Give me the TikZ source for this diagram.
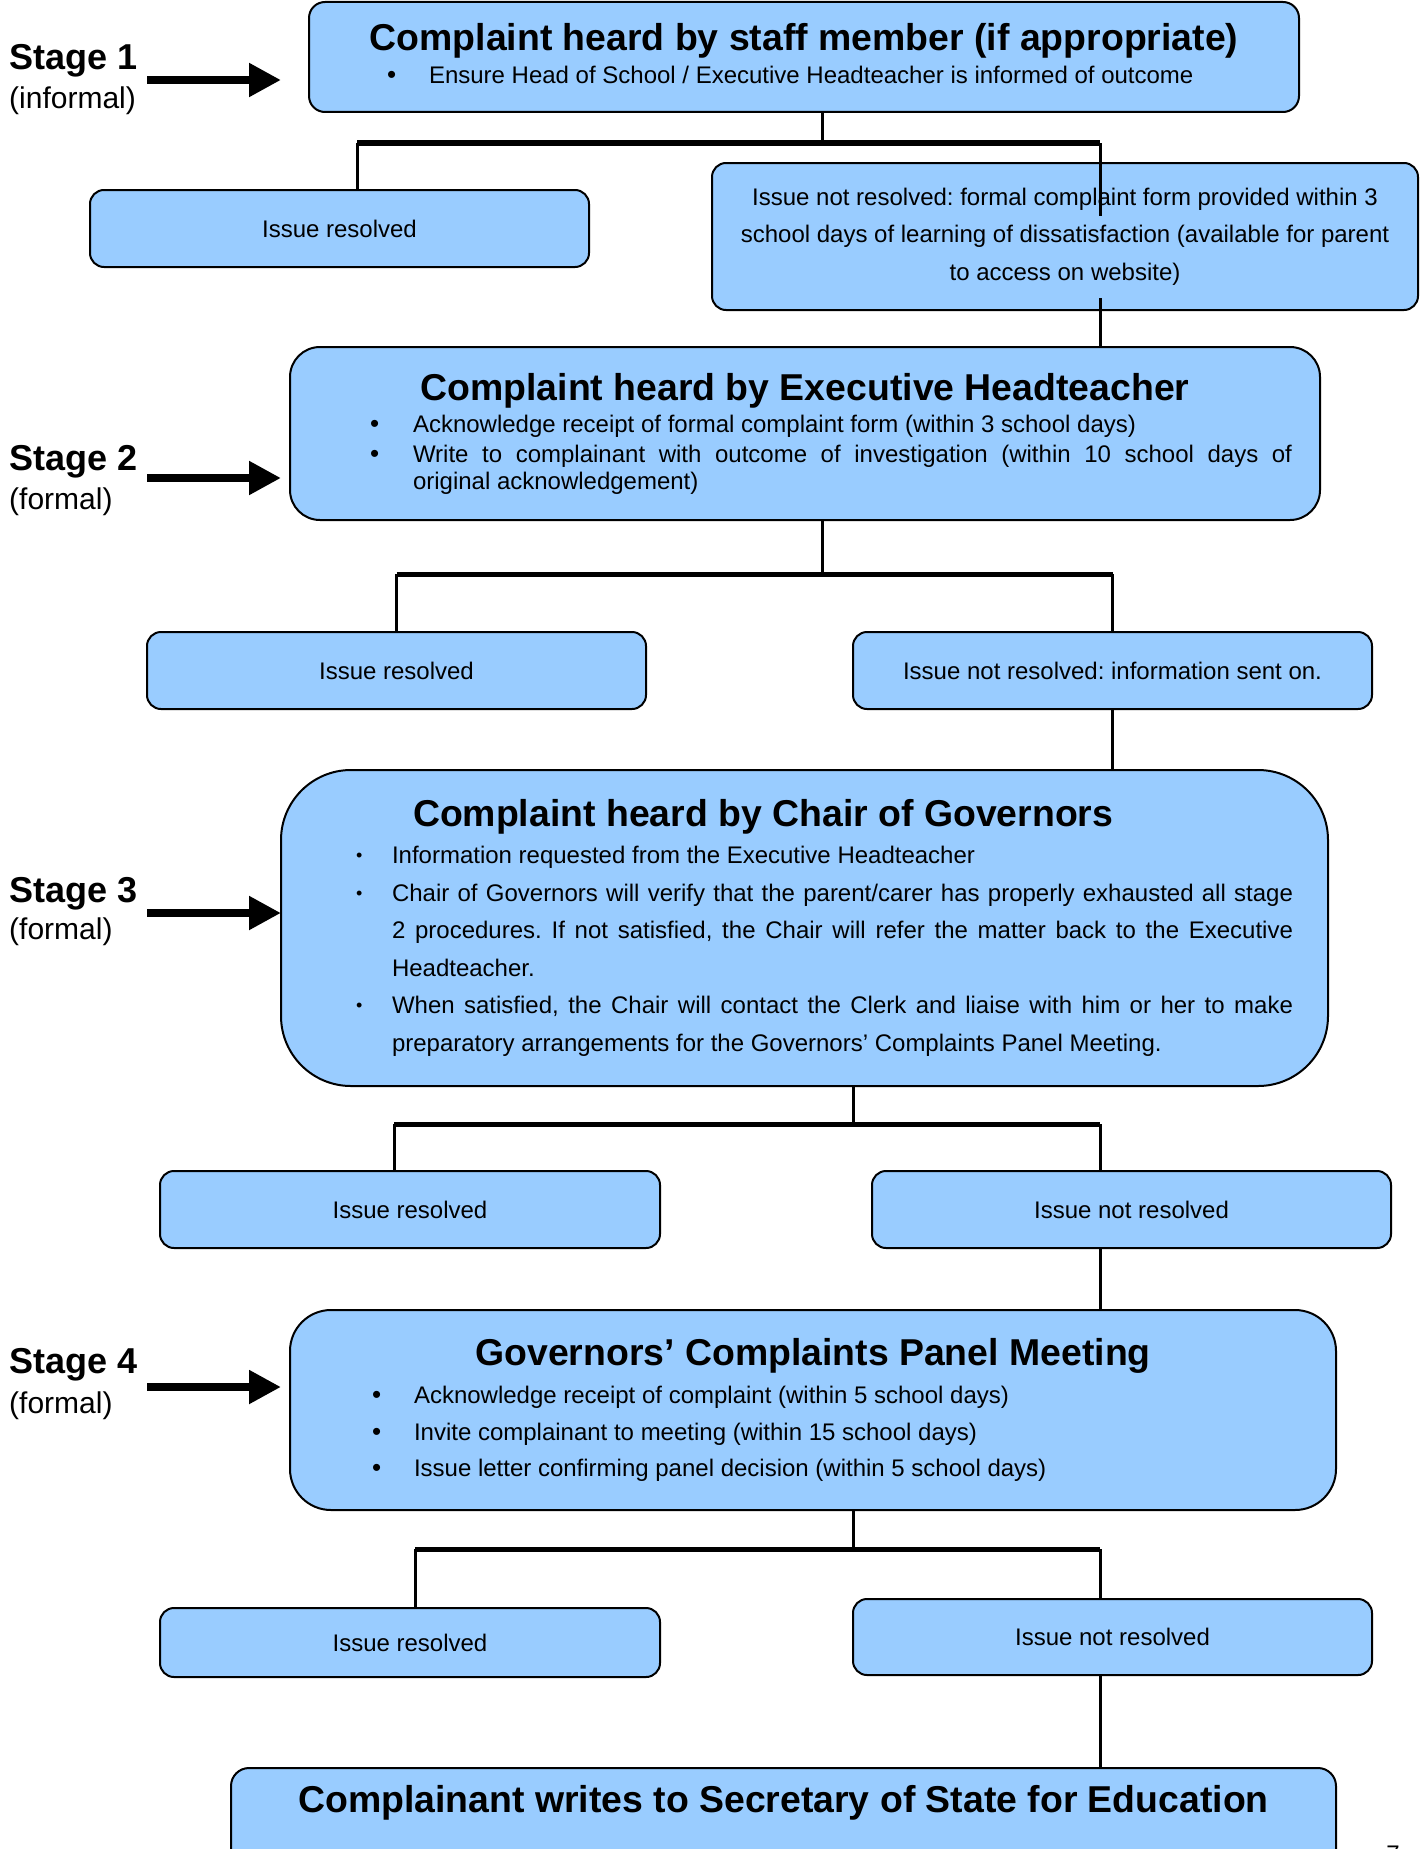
\documentclass[tikz,border=0pt]{standalone}
\usepackage{fontspec}
\setmainfont{Liberation Sans}
\usetikzlibrary{arrows.meta, positioning}

\definecolor{boxblue}{HTML}{99CCFF}
\setlength{\parindent}{0pt}
\hyphenpenalty=10000
\exhyphenpenalty=10000
\frenchspacing

\newcommand{\titlefont}{\fontsize{37.4}{44}\selectfont\bfseries}
\newcommand{\bodyfont}[1]{\fontsize{24}{#1}\selectfont}
\newcommand{\bigdot}{{\fontsize{26}{26}\selectfont •}}
\newcommand{\smalldot}{\raisebox{2pt}{\fontsize{18}{18}\selectfont •}}
% bullet point: [mark]{indent}{text}
\newcommand{\bpt}[3][\bigdot]{\par\noindent\hangindent=#2\hangafter=1\makebox[#2][l]{#1}#3\par}

\begin{document}
\begin{tikzpicture}[x=1pt, y=-1pt,
    every node/.style={font=\bodyfont{28}},
    box/.style={draw, line width=2pt, fill=boxblue, rounded corners=14pt, inner sep=0pt},
    stagelbl/.style={font=\fontsize{36}{40}\selectfont\bfseries, inner sep=0pt, anchor=west},
    notelbl/.style={font=\fontsize{30}{34}\selectfont, inner sep=0pt, anchor=west},
    stem/.style={line width=3pt},
    branch/.style={line width=5pt},
    stagearrow/.style={line width=8pt, -{Triangle[length=32pt, width=32pt]}}]

    \fill[white] (0,0) rectangle (1426,1849);
    \clip (0,0) rectangle (1426,1849);

    % stage labels
    \node[stagelbl] (st1) at (9,61) {Stage 1};
    \node[notelbl] (nt1) at (9,101) {(informal)};
    \node[stagelbl] (st2) at (9,462) {Stage 2};
    \node[notelbl] (nt2) at (9,502) {(formal)};
    \node[stagelbl] (st3) at (9,894) {Stage 3};
    \node[notelbl] (nt3) at (9,932) {(formal)};
    \node[stagelbl] (st4) at (9,1365) {Stage 4};
    \node[notelbl] (nt4) at (9,1406) {(formal)};

    % stage 1
    \node[box, rounded corners=16pt, minimum width=990pt, minimum height=110pt, text width=990pt, align=justify] (s1) at (804,57) {%
        {\centering\titlefont Complaint heard by staff member (if appropriate)\par}
        \vskip5pt
        {\bodyfont{28}\leftskip=78pt
        \bpt{42pt}{Ensure Head of School / Executive Headteacher is informed of outcome}}
        \kern6pt};
    \node[box, minimum width=499pt, minimum height=77pt] (r1) at (339.5,228.5) {Issue resolved};
    \node[box, minimum width=706pt, minimum height=147pt, align=center,
        font=\bodyfont{37.7}] (n1) at (1065,236.5)
        {Issue not resolved: formal complaint form provided within 3\\ school days of learning of dissatisfaction (available for parent\\ to access on website)};

    % stage 2
    \node[box, rounded corners=30pt, minimum width=1030pt, minimum height=173pt, text width=1030pt, align=justify] (s2) at (805,433.5) {%
        {\centering\titlefont Complaint heard by Executive Headteacher\par}
        \vskip2pt
        {\bodyfont{27}\parskip=3pt\leftskip=80pt\rightskip=28pt
        \bpt{43pt}{Acknowledge receipt of formal complaint form (within 3 school days)}
        \bpt{43pt}{Write to complainant with outcome of investigation (within 10 school days of\linebreak original acknowledgement)}}};
    \node[box, minimum width=499pt, minimum height=77pt] (r2) at (396.5,670.5) {Issue resolved};
    \node[box, minimum width=519pt, minimum height=77pt] (n2) at (1112.5,670.5) {Issue not resolved: information sent on.};

    % stage 3
    \node[box, rounded corners=70pt, minimum width=1047pt, minimum height=316pt, text width=1047pt, align=justify] (s3) at (804.5,928) {%
        {\titlefont\leftskip=132pt Complaint heard by Chair of Governors\par}
        \vskip-0.5pt
        {\bodyfont{37.5}\leftskip=75pt\rightskip=35pt
        \bpt[\smalldot]{36pt}{Information requested from the Executive Headteacher}
        \bpt[\smalldot]{36pt}{Chair of Governors will verify that the parent/carer has properly exhausted all stage 2 procedures. If not satisfied, the Chair will refer the matter back to the Executive Headteacher.}
        \bpt[\smalldot]{36pt}{When satisfied, the Chair will contact the Clerk and liaise with him or her to make preparatory arrangements for the Governors’ Complaints Panel Meeting.}}};
    \node[box, minimum width=500pt, minimum height=77pt] (r3) at (410,1209.5) {Issue resolved};
    \node[box, minimum width=519pt, minimum height=77pt] (n3) at (1131.5,1209.5) {Issue not resolved};

    % stage 4
    \node[box, rounded corners=41pt, minimum width=1046pt, minimum height=200pt, text width=1046pt, align=justify] (s4) at (813,1410) {%
        {\centering\titlefont Governors’ Complaints Panel Meeting\par}
        \vskip2pt
        {\bodyfont{36.5}\leftskip=82pt\rightskip=28pt
        \bpt{42pt}{Acknowledge receipt of complaint (within 5 school days)}
        \bpt{42pt}{Invite complainant to meeting (within 15 school days)}
        \bpt{42pt}{Issue letter confirming panel decision (within 5 school days)}}};
    \node[box, minimum width=500pt, minimum height=69pt] (r4) at (410,1642.5) {Issue resolved};
    \node[box, minimum width=519pt, minimum height=76pt] (n4) at (1112.5,1637) {Issue not resolved};

    % final step
    \node[box, rounded corners=18pt, anchor=north, minimum width=1105pt, inner ysep=0pt,
        text height=44pt, text depth=116pt, font=\titlefont] (fin) at (783.5,1767)
        {Complainant writes to Secretary of State for Education};

    % page number
    \node[anchor=base] (pg) at (1393,1862) {7};

    % arrows into the stages
    \coordinate (a1) at (147,80);  \coordinate (e1) at (281,80);
    \coordinate (a2) at (147,478); \coordinate (e2) at (281,478);
    \coordinate (a3) at (147,913); \coordinate (e3) at (281,913);
    \coordinate (a4) at (147,1387); \coordinate (e4) at (281,1387);
    \foreach \i in {1,...,4}
        \draw[stagearrow] (a\i) -- (e\i);

    % branches
    \coordinate (j1) at (822,143);  \coordinate (j1l) at (357,143);  \coordinate (j1r) at (1100,143);
    \coordinate (j2) at (822,574);
    \coordinate (j3) at (853,1124); \coordinate (j3l) at (394,1124); \coordinate (j3r) at (1100,1124);
    \coordinate (j4) at (853,1549); \coordinate (j4l) at (415,1549); \coordinate (j4r) at (1100,1549);
    \coordinate (c1) at (1100,216); \coordinate (x1) at (1100,298);

    \draw[stem] (j1 |- s1.south) -- (j1);
    \draw[branch] (j1l) -- (j1r);
    \draw[stem] (j1l) -- (j1l |- r1.north);
    \draw[stem] (j1r) -- (c1);
    \draw[stem] (x1) -- (x1 |- s2.north);

    \draw[stem] (j2 |- s2.south) -- (j2);
    \draw[branch] (r2.north |- j2) -- (n2.north |- j2);
    \draw[stem] (r2.north |- j2) -- (r2.north);
    \draw[stem] (n2.north |- j2) -- (n2.north);
    \draw[stem] (n2.south) -- (n2.south |- s3.north);

    \draw[stem] (j3 |- s3.south) -- (j3);
    \draw[branch] (j3l) -- (j3r);
    \draw[stem] (j3l) -- (j3l |- r3.north);
    \draw[stem] (j3r) -- (j3r |- n3.north);
    \draw[stem] (j3r |- n3.south) -- (j3r |- s4.north);

    \draw[stem] (j4 |- s4.south) -- (j4);
    \draw[branch] (j4l) -- (j4r);
    \draw[stem] (j4l) -- (j4l |- r4.north);
    \draw[stem] (j4r) -- (j4r |- n4.north);
    \draw[stem] (j4r |- n4.south) -- (j4r |- fin.north);
\end{tikzpicture}
\end{document}
